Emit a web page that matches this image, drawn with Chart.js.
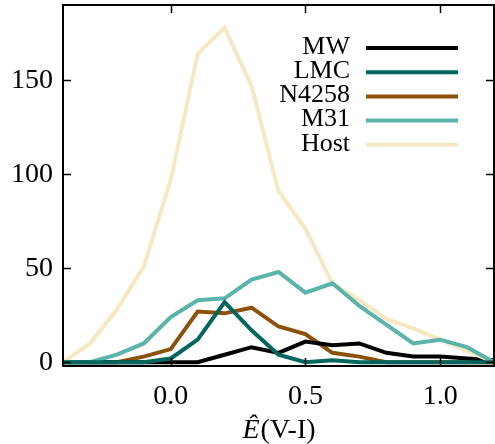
<!DOCTYPE html>
<html>
<head>
<meta charset="utf-8">
<script src="https://cdn.jsdelivr.net/npm/chart.js@4.4.1/dist/chart.umd.min.js"></script>
<style>
  html, body { margin: 0; padding: 0; background: #fff; }
  #wrap { width: 495px; height: 444px; }
</style>
</head>
<body>
<div id="wrap"><canvas id="grafico"></canvas></div>
<script>
// centros dos bins de E(V-I)
const centros = [-0.4, -0.3, -0.2, -0.1, 0.0, 0.1, 0.2, 0.3, 0.4, 0.5, 0.6, 0.7, 0.8, 0.9, 1.0, 1.1, 1.2];

// contagens por amostra
const mw    = [0, 0, 0, 0, 0, 0, 4, 8, 5, 11, 9, 10, 5, 3, 3, 2, 1];
const lmc   = [0, 0, 0, 0, 2, 12, 32, 17, 4, 0, 1, 0, 0, 0, 0, 0, 0];
const n4258 = [0, 0, 0, 3, 7, 27, 26, 29, 19, 15, 5, 3, 0, 0, 0, 0, 0];
const m31   = [0, 0, 4, 10, 24, 33, 34, 44, 48, 37, 42, 30, 20, 10, 12, 8, 0];
const host  = [0, 10, 28, 51, 97, 164, 178, 147, 91, 71, 42, 33, 23, 18, 12, 6, 0];

const xTicks = [0.0, 0.5, 1.0];
const yTicks = [0, 50, 100, 150];

const fonte = '"Liberation Serif", "DejaVu Serif", serif';

function pontos(valores) {
  return centros.map((x, i) => ({ x, y: valores[i] }));
}

function serie(label, valores, cor, ordem) {
  return {
    label,
    data: pontos(valores),
    borderColor: cor,
    backgroundColor: cor,
    borderWidth: 4,
    pointRadius: 0,
    tension: 0,
    order: ordem,
  };
}

// moldura com ticks para dentro, legenda e titulo do eixo x
const moldura = {
  id: 'moldura',
  afterDraw(chart) {
    const { ctx, chartArea: a, scales } = chart;
    const tam = 8;
    ctx.save();
    ctx.strokeStyle = '#000';
    ctx.lineWidth = 2;
    ctx.strokeRect(a.left, a.top, a.right - a.left, a.bottom - a.top);
    ctx.lineWidth = 1.5;
    ctx.beginPath();
    xTicks.forEach((v) => {
      const px = Math.round(scales.x.getPixelForValue(v)) + 0.5;
      ctx.moveTo(px, a.bottom); ctx.lineTo(px, a.bottom - tam);
      ctx.moveTo(px, a.top); ctx.lineTo(px, a.top + tam);
    });
    yTicks.forEach((v) => {
      const py = Math.round(scales.y.getPixelForValue(v)) + 0.5;
      ctx.moveTo(a.left, py); ctx.lineTo(a.left + tam, py);
      ctx.moveTo(a.right, py); ctx.lineTo(a.right - tam, py);
    });
    ctx.stroke();

    // legenda: texto a direita alinhado, linha depois
    const fimLinha = a.right - 36;
    const iniLinha = fimLinha - 92;
    const fimTexto = iniLinha - 16;
    ctx.font = '26px ' + fonte;
    ctx.textAlign = 'right';
    ctx.textBaseline = 'middle';
    chart.data.datasets.forEach((ds, i) => {
      const y = a.top + 43 + i * 24.2;
      ctx.fillStyle = '#000';
      ctx.fillText(ds.label, fimTexto, y - 1);
      ctx.strokeStyle = ds.borderColor;
      ctx.lineWidth = 4;
      ctx.beginPath();
      ctx.moveTo(iniLinha, y);
      ctx.lineTo(fimLinha, y);
      ctx.stroke();
    });

    // titulo do eixo x: E chapeu italico + (V-I)
    const parte1 = 'Ê';
    const parte2 = '(V-I)';
    ctx.fillStyle = '#000';
    ctx.textAlign = 'left';
    ctx.textBaseline = 'alphabetic';
    ctx.font = 'italic 28px ' + fonte;
    const w1 = ctx.measureText(parte1).width;
    ctx.font = '28px ' + fonte;
    const w2 = ctx.measureText(parte2).width;
    const cx = (a.left + a.right) / 2;
    const x0 = cx - (w1 + w2) / 2;
    const base = 438;
    ctx.font = 'italic 28px ' + fonte;
    ctx.fillText(parte1, x0, base);
    ctx.font = '28px ' + fonte;
    ctx.fillText(parte2, x0 + w1 + 1, base);
    ctx.restore();
  },
};

const ctx = document.getElementById('grafico').getContext('2d');
new Chart(ctx, {
  type: 'line',
  data: {
    datasets: [
      serie('MW', mw, '#000000', 3),
      serie('LMC', lmc, '#01665e', 0),
      serie('N4258', n4258, '#8c510a', 4),
      serie('M31', m31, '#5ab4ac', 1),
      serie('Host', host, '#f6e8c3', 2),
    ],
  },
  options: {
    responsive: true,
    maintainAspectRatio: false,
    animation: false,
    devicePixelRatio: 1,
    layout: { padding: { top: 5, right: 1, left: 0, bottom: 0 } },
    plugins: {
      legend: { display: false },
      tooltip: { enabled: false },
    },
    scales: {
      x: {
        type: 'linear',
        min: -0.4,
        max: 1.2,
        afterBuildTicks: (s) => { s.ticks = xTicks.map((v) => ({ value: v })); },
        afterFit: (s) => { s.height = 78; s.paddingLeft = 0; s.paddingRight = 0; },
        grid: { display: false, drawTicks: false },
        border: { display: false },
        ticks: {
          color: '#000',
          padding: 14,
          maxRotation: 0,
          font: { family: fonte, size: 28 },
          callback: (v) => Number(v).toFixed(1),
        },
      },
      y: {
        min: -2,
        max: 190,
        afterBuildTicks: (s) => { s.ticks = yTicks.map((v) => ({ value: v })); },
        afterFit: (s) => { s.width = 63; s.paddingTop = 0; s.paddingBottom = 0; },
        grid: { display: false, drawTicks: false },
        border: { display: false },
        ticks: {
          color: '#000',
          padding: 10,
          font: { family: fonte, size: 28 },
        },
      },
    },
  },
  plugins: [moldura],
});
</script>
</body>
</html>
